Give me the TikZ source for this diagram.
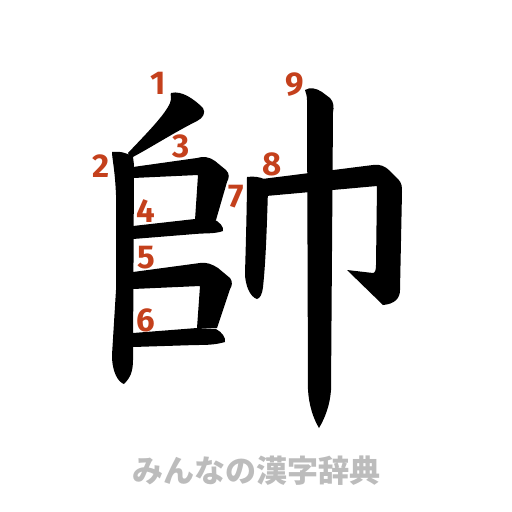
\documentclass[tikz,border=0pt]{standalone}
\usepackage{fontspec}
\setmainfont{Fira Sans}
\newfontfamily\cjk{Noto Sans CJK JP}
\definecolor{numred}{RGB}{196,64,28}
\definecolor{logogray}{RGB}{188,188,188}
\tikzset{
  strokefill/.style={fill=black,draw=none},
  num/.style={text=numred,font=\fontsize{33}{33}\selectfont\bfseries,inner sep=0pt,anchor=center},
  logo/.style={text=logogray,font=\cjk\fontsize{31}{31}\selectfont\bfseries,inner sep=0pt}
}
\begin{document}
\begin{tikzpicture}[x=1pt,y=-1pt]
\useasboundingbox (0,0) rectangle (512,512);
% stroke 1
\fill[strokefill] (171,93) .. controls (182,90) and (195,100) .. (203,108) .. controls (206,113) and (203,118) .. (197,121) .. controls (175,132) and (150,148) .. (131,158) -- (128,153) .. controls (145,135) and (165,115) .. (170,103) .. controls (172,98) and (170,95) .. (171,93) -- cycle;
% stroke 2
\fill[strokefill] (112,152) .. controls (120,151) and (128,153) .. (133,157) -- (134,165) -- (133,360) .. controls (133,372) and (130,378) .. (124,384) .. controls (118,382) and (112,372) .. (112,355) -- (116,290) -- (116,195) .. controls (115,170) and (112,158) .. (112,152) -- cycle;
% stroke 3
\fill[strokefill] (133,167) -- (197,158) .. controls (203,156) and (210,157) .. (215,161) -- (226,170) .. controls (230,174) and (229,178) .. (227,182) -- (216,220) -- (195,220) -- (198,175) -- (133,178) -- cycle;
% stroke 4
\fill[strokefill] (133,226) -- (195,219) -- (213,219) .. controls (220,222) and (224,227) .. (223,231) .. controls (215,234) and (205,233) .. (195,234) -- (133,239) -- cycle;
% stroke 5
\fill[strokefill] (133,272) -- (200,263) .. controls (206,262) and (212,264) .. (218,268) -- (230,278) .. controls (233,282) and (232,286) .. (230,289) -- (217,328) -- (197,328) -- (200,286) -- (133,289) -- cycle;
% stroke 6
\fill[strokefill] (133,333) -- (197,328) -- (216,329) .. controls (222,332) and (226,338) .. (225,342) .. controls (215,345) and (205,345) .. (196,345) -- (133,347) -- cycle;
% stroke 7
\fill[strokefill] (247,177) .. controls (253,176) and (260,177) .. (264,179) -- (268,190) .. controls (267,220) and (266,260) .. (263,287) .. controls (262,295) and (260,298) .. (257,299) .. controls (250,297) and (245,285) .. (245,273) .. controls (246,240) and (247,200) .. (247,177) -- cycle;
% stroke 8
\fill[strokefill] (262,179) -- (373,165) .. controls (380,164) and (385,166) .. (390,171) -- (398,179) .. controls (402,183) and (402,187) .. (402,192) -- (400,290) .. controls (400,298) and (395,304) .. (383,305) -- (347,270) -- (373,273) .. controls (375,273) and (376,270) .. (376,265) -- (377,186) -- (266,196) -- cycle;
% stroke 9
\fill[strokefill] (305,90) .. controls (310,87) and (316,88) .. (322,92) -- (330,98) .. controls (334,102) and (334,108) .. (333,112) -- (331,390) .. controls (330,405) and (325,418) .. (319,428) .. controls (313,418) and (309,405) .. (308,390) -- (307,100) .. controls (307,96) and (306,93) .. (305,90) -- cycle;
% numbers
\node[num] (n1) at (158,83) {1};
\node[num] (n2) at (101.5,166.5) {2};
\node[num] (n3) at (181.5,146.5) {3};
\node[num] (n4) at (146,211.5) {4};
\node[num] (n5) at (146,258) {5};
\node[num] (n6) at (146,320) {6};
\node[num] (n7) at (236.5,196.5) {7};
\node[num] (n8) at (272.5,164.5) {8};
\node[num] (n9) at (295,85) {9};
% logo
\node[logo] (logo) at (256,471) {みんなの漢字辞典};
\end{tikzpicture}
\end{document}
